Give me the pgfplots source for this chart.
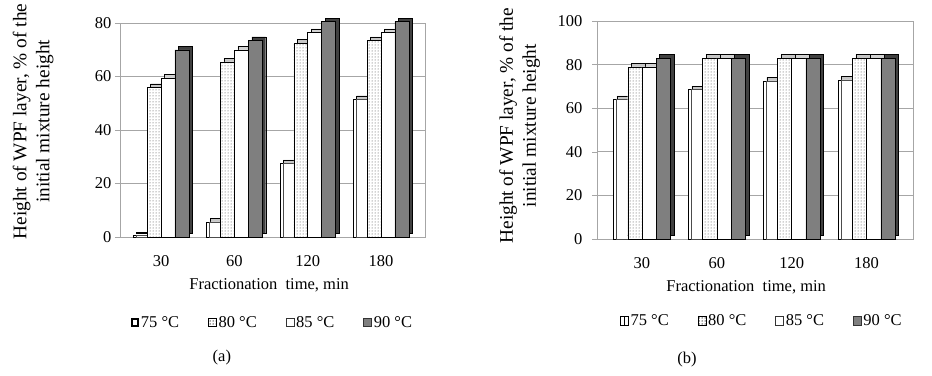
\documentclass[border=0pt]{standalone}
\usepackage{fontspec}
\setmainfont{Liberation Serif}
\usepackage{pgfplots}
\pgfplotsset{compat=1.18}
\usepackage{pgfplotstable}
\usetikzlibrary{patterns}

\definecolor{barG}{HTML}{7F7F7F}
\definecolor{barGD}{HTML}{404040}
\definecolor{gridG}{HTML}{A6A6A6}

\pgfplotstableread{
x v75 v80 v85 v90
0 0.5 56 59.5 70
1 5.7 65.5 70 73.5
2 27.5 72.5 76.5 80.5
3 51.5 73.5 76.5 80.5
}\dataA

\pgfplotstableread{
x v75 v80 v85 v90
0 64 79 79 83
1 68.5 83 83 83
2 72.5 83 83 83
3 73 83 83 83
}\dataB

\pgfplotsset{
  mybase/.style={
    scale only axis, clip=false,
    font=\fontsize{16.5}{22}\selectfont,
    /pgf/number format/assume math mode=true,
    xtick={0,1,2,3}, xticklabels={30,60,120,180},
    ymin=0,
    major x tick style={draw=none},
    ytick pos=left, tick align=outside, major tick length=5pt,
    ytick style={gridG},
    ymajorgrids, grid style={gridG, line width=0.8pt},
    axis line style={gridG, line width=0.8pt},
    xticklabel style={anchor=center, yshift=-19pt},
    ylabel style={align=center, anchor=center, font=\fontsize{19.3}{23}\selectfont},
    xlabel style={anchor=center},
    legend columns=4,
    legend style={draw=none, fill=none, anchor=center, font=\fontsize{16.5}{20}\selectfont,
      /tikz/every even column/.append style={column sep=27pt}},
  },
  sh/.style={ybar, bar width=0.19, bar shift=#1, xshift=3.5pt, yshift=3.5pt, draw=black, forget plot},
  fr/.style={ybar, bar width=0.19, bar shift=#1, draw=black},
  inner/.style={ybar, bar width=0.15, bar shift=#1, draw=black!70, fill=none, forget plot},
}

\begin{document}
\begin{tikzpicture}
\useasboundingbox (0,0) rectangle (932pt,375pt);

% ---------- panel (a)
\begin{axis}[mybase,
  at={(120pt,138pt)}, anchor=south west,
  width=305pt, height=214pt,
  xmin=-0.56, xmax=3.6, ymax=80, ytick={0,20,...,80},
  ylabel={Height of WPF layer, \% of the\\initial mixture height},
  ylabel style={at={(axis description cs:-0.285,0.54)}},
  xlabel={Fractionation\ \ time, min},
  xlabel style={at={(axis description cs:0.489,-0.224)}},
  legend style={at={(axis description cs:0.5,-0.40)}},
]
\addplot[sh=-0.285, fill=gray!45] table[x=x,y=v75]{\dataA};
\addplot[fr=-0.285, fill=white,
  legend image code/.code={\draw[black, line width=1.6pt, fill=white] (0.8pt,-3.2pt) rectangle (7.2pt,3.8pt);}] table[x=x,y=v75]{\dataA};
\addplot[inner=-0.265] table[x=x,y=v75]{\dataA};
\addplot[sh=-0.095, fill=gray!45] table[x=x,y=v80]{\dataA};
\addplot[fr=-0.095, fill=white, postaction={pattern=dots, pattern color=black!75},
  legend image code/.code={\draw[black, fill=white, postaction={pattern=dots, pattern color=black}] (0pt,-4pt) rectangle (8pt,4.5pt);}] table[x=x,y=v80]{\dataA};
\addplot[sh=0.095, fill=gray!35] table[x=x,y=v85]{\dataA};
\addplot[fr=0.095, fill=white,
  legend image code/.code={\draw[black!80, fill=white] (0pt,-4pt) rectangle (8pt,4.5pt);}] table[x=x,y=v85]{\dataA};
\addplot[sh=0.285, fill=barGD] table[x=x,y=v90]{\dataA};
\addplot[fr=0.285, fill=barG,
  legend image code/.code={\draw[black!80, fill=barG] (0pt,-4pt) rectangle (8pt,4.5pt);}] table[x=x,y=v90]{\dataA};
\legend{75 °C, 80 °C, 85 °C, 90 °C}
\node[font=\fontsize{16.5}{20}\selectfont] at (axis description cs:0.334,-0.565) {(a)};
\end{axis}

% ---------- panel (b)
\begin{axis}[mybase,
  at={(597pt,136pt)}, anchor=south west,
  width=316pt, height=218pt,
  xmin=-0.6, xmax=3.62, ymax=100, ytick={0,20,...,100},
  yticklabel style={xshift=-6pt},
  ylabel={Height of WPF layer, \% of the\\initial mixture height},
  ylabel style={at={(axis description cs:-0.245,0.52)}},
  xlabel={Fractionation\ \ time, min},
  xlabel style={at={(axis description cs:0.472,-0.22)}},
  legend style={at={(axis description cs:0.522,-0.376)}},
]
\addplot[sh=-0.285, fill=gray!45] table[x=x,y=v75]{\dataB};
\addplot[fr=-0.285, fill=white,
  legend image code/.code={\draw[black, fill=white] (0pt,-4pt) rectangle (8pt,4.5pt); \draw[black] (4pt,-4pt) -- (4pt,4.5pt);}] table[x=x,y=v75]{\dataB};
\addplot[inner=-0.265] table[x=x,y=v75]{\dataB};
\addplot[sh=-0.095, fill=gray!45] table[x=x,y=v80]{\dataB};
\addplot[fr=-0.095, fill=white, postaction={pattern=dots, pattern color=black!75},
  legend image code/.code={\draw[black, fill=white, postaction={pattern=dots, pattern color=black}] (0pt,-4pt) rectangle (8pt,4.5pt);}] table[x=x,y=v80]{\dataB};
\addplot[sh=0.095, fill=gray!35] table[x=x,y=v85]{\dataB};
\addplot[fr=0.095, fill=white,
  legend image code/.code={\draw[black!80, fill=white] (0pt,-4pt) rectangle (8pt,4.5pt);}] table[x=x,y=v85]{\dataB};
\addplot[sh=0.285, fill=barGD] table[x=x,y=v90]{\dataB};
\addplot[fr=0.285, fill=barG,
  legend image code/.code={\draw[black!80, fill=barG] (0pt,-4pt) rectangle (8pt,4.5pt);}] table[x=x,y=v90]{\dataB};
\legend{75 °C, 80 °C, 85 °C, 90 °C}
\node[font=\fontsize{16.5}{20}\selectfont] at (axis description cs:0.285,-0.555) {(b)};
\end{axis}
\end{tikzpicture}
\end{document}
